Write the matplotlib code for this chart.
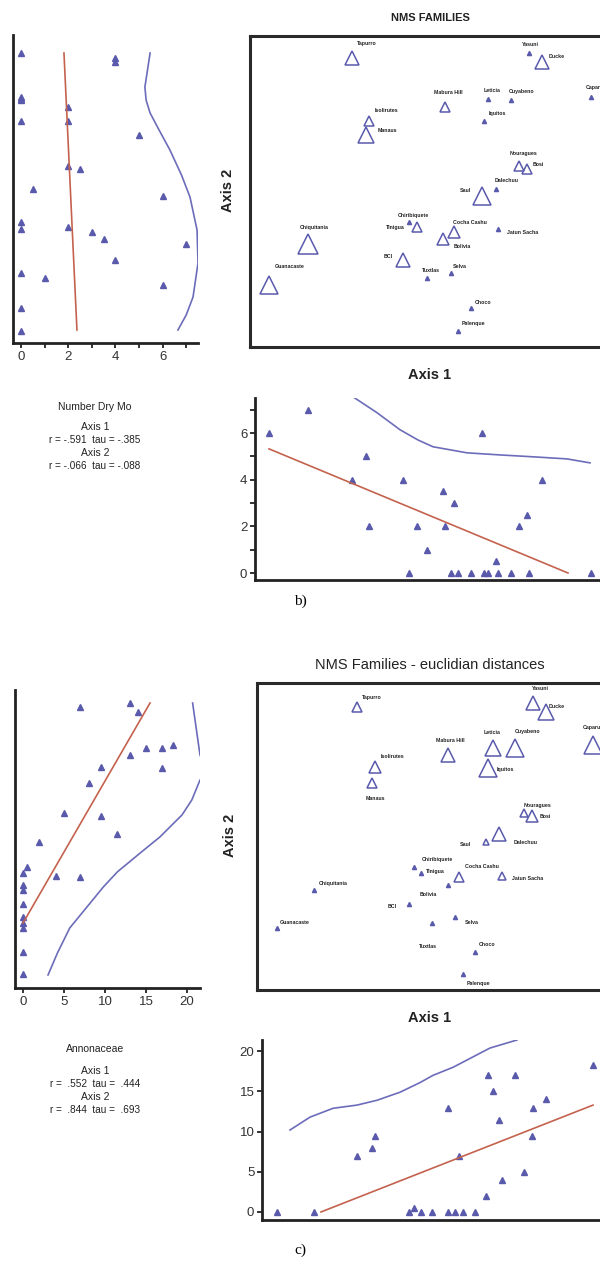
import numpy as np
import matplotlib
matplotlib.use("Agg")
import matplotlib.pyplot as plt

plt.rcParams['font.family'] = ['Liberation Sans', 'DejaVu Sans']

W, H = 600, 1267
BLUE = '#5a5aac'
LINE_BLUE = '#6c6cba'
RED = '#c4624e'

sites = ["Tapurro", "Yasuni", "Ducke", "Isolirutes", "Manaus", "Mabura Hill",
         "Leticia", "Cuyabeno", "Iquitos", "Caparu", "Nouragues", "Bosi",
         "Dalechuu", "Saul", "Chiribiquete", "Tinigua", "Chiquitania",
         "Cocha Cashu", "Bolivia", "Jatun Sacha", "BCI", "Tuxtlas", "Selva",
         "Choco", "Palenque", "Guanacaste"]

# NMS scores, families (Sorensen)
axis1_fam = [-0.78, 0.99, 1.12, -0.61, -0.64, 0.15, 0.58, 0.81, 0.54, 1.61,
             0.89, 0.97, 0.66, 0.52, -0.21, -0.13, -1.22, 0.24, 0.13, 0.68,
             -0.27, -0.03, 0.21, 0.41, 0.28, -1.61]
axis2_fam = [1.32, 1.37, 1.28, 0.69, 0.55, 0.83, 0.91, 0.90, 0.69, 0.93,
             0.24, 0.21, 0.01, -0.06, -0.32, -0.37, -0.54, -0.42, -0.49, -0.39,
             -0.70, -0.88, -0.83, -1.18, -1.41, -0.95]

# NMS scores, families (euclidian distances)
axis1_euc = [-0.73, 1.03, 1.16, -0.55, -0.58, 0.18, 0.63, 0.85, 0.58, 1.63,
             0.94, 1.02, 0.69, 0.56, -0.16, -0.09, -1.16, 0.29, 0.18, 0.72,
             -0.21, 0.02, 0.25, 0.45, 0.33, -1.53]
axis2_euc = [1.28, 1.32, 1.23, 0.68, 0.52, 0.80, 0.87, 0.87, 0.67, 0.90,
             0.22, 0.19, 0.01, -0.07, -0.32, -0.38, -0.55, -0.42, -0.50, -0.41,
             -0.69, -0.88, -0.82, -1.17, -1.39, -0.93]

dry_months = [4, 0, 4, 2, 5, 2, 0, 0, 0, 0, 2, 2.5, 0.5, 6, 0, 2, 7, 3, 3.5, 0,
              4, 1, 0, 0, 0, 6]
annonaceae = [7, 13, 14, 9.5, 8, 13, 15, 17, 17, 18.3, 5, 9.5, 11.5, 2, 0.5, 0,
              0, 7, 0, 4, 0, 0, 0, 0, 0, 0]

# label offsets (pixels) for the two ordinations
off_fam = [(15, 14), (1, 9), (15, 6), (17, 10), (21, 4), (3, 15), (4, 8),
           (11, 8), (13, 8), (4, 9), (4, 12), (11, 4), (11, 8), (-17, 5),
           (4, 7), (-22, 0), (6, 16), (16, 10), (19, -7), (25, -3), (-15, 4),
           (4, 8), (9, 6), (12, 6), (15, 7), (21, 18)]
off_euc = [(15, 10), (7, 15), (11, 5), (17, 11), (3, -16), (2, 15), (-1, 16),
           (13, 16), (17, -2), (-1, 18), (14, 8), (13, -1), (27, -9), (-21, -2),
           (23, 7), (14, 1), (19, 7), (23, 10), (-20, -10), (26, -3), (-17, -3),
           (-4, -24), (17, -5), (12, 7), (15, -9), (18, 6)]

# fitted lines / smooths: dry months
dry_ax2_line_x = [1.82, 2.37]
dry_ax2_line_y = [1.37, -1.40]
dry_ax2_smooth_x = [5.47, 5.25, 5.30, 5.47, 5.85, 6.31, 6.80, 7.16, 7.46, 7.50, 7.29, 7.00, 6.65]
dry_ax2_smooth_y = [1.37, 1.03, 0.90, 0.77, 0.60, 0.40, 0.15, -0.07, -0.40, -0.73, -1.07, -1.25, -1.40]
dry_ax1_line_x = [-1.61, 1.38]
dry_ax1_line_y = [5.32, 0.0]
dry_ax1_smooth_x = [-0.77, -0.53, -0.30, -0.12, 0.03, 0.37, 0.70, 1.03, 1.37, 1.60]
dry_ax1_smooth_y = [7.55, 6.87, 6.14, 5.70, 5.41, 5.15, 5.06, 4.98, 4.89, 4.72]

# fitted lines / smooths: Annonaceae
ann_ax2_line_x = [0.0, 15.5]
ann_ax2_line_y = [-0.88, 1.32]
ann_ax2_smooth_x = [20.7, 21.6, 22.6, 21.6, 20.6, 19.4, 16.7, 14.3, 11.5, 9.8, 7.8, 5.7, 4.2, 3.05]
ann_ax2_smooth_y = [1.32, 0.80, 0.62, 0.55, 0.35, 0.20, -0.02, -0.18, -0.37, -0.52, -0.72, -0.93, -1.18, -1.40]
ann_ax1_line_x = [-1.09, 1.63]
ann_ax1_line_y = [0.0, 13.3]
ann_ax1_smooth_x = [-1.40, -1.20, -0.97, -0.73, -0.53, -0.30, -0.10, 0.03, 0.23, 0.43, 0.60, 0.87]
ann_ax1_smooth_y = [10.2, 11.8, 12.9, 13.3, 13.9, 14.9, 16.1, 17.0, 18.0, 19.3, 20.4, 21.4]


def add_axes(fig, left, top, right, bottom):
    return fig.add_axes([left / W, 1 - bottom / H, (right - left) / W, (bottom - top) / H])


def ftext(fig, x, y, s, **kw):
    kw.setdefault('ha', 'center')
    kw.setdefault('va', 'center')
    fig.text(x / W, 1 - y / H, s, **kw)


def style_lb(ax):
    for sp in ['top', 'right']:
        ax.spines[sp].set_visible(False)
    for sp in ['left', 'bottom']:
        ax.spines[sp].set_linewidth(2.0)
        ax.spines[sp].set_color('#222222')
    ax.tick_params(direction='out', length=3.5, width=1.4, color='#333333',
                   labelsize=9.5, labelcolor='#333333', pad=2)


def side_scatter(ax, xv, yv, xlim, ylim, ticks, labels):
    ax.plot(xv, yv, ls='none', marker='^', ms=4.2, color=BLUE)
    ax.set_xlim(*xlim)
    ax.set_ylim(*ylim)
    style_lb(ax)
    ax.set_xticks(ticks)
    ax.set_xticklabels(labels)
    ax.set_yticks([])


def bottom_scatter(ax, xv, yv, xlim, ylim, ticks, labels):
    ax.plot(xv, yv, ls='none', marker='^', ms=4.2, color=BLUE)
    ax.set_xlim(*xlim)
    ax.set_ylim(*ylim)
    style_lb(ax)
    ax.set_yticks(ticks)
    ax.set_yticklabels(labels)
    ax.set_xticks([])


def nms_box(ax, a1, a2, vals, offs, xlim, ylim, base, slope):
    for name, x, y, v, (dx, dy) in zip(sites, a1, a2, vals, offs):
        if v >= 1.5:
            ms = base + slope * v
            ax.plot(x, y, marker='^', ms=ms, mfc='none', mec=BLUE, mew=1.1, ls='none')
        else:
            ax.plot(x, y, marker='^', ms=3.0, color=BLUE, ls='none')
        ax.annotate(name, (x, y), xytext=(dx, dy), textcoords='offset pixels',
                    fontsize=3.8, fontweight='bold', ha='center', va='center',
                    color='#222222', annotation_clip=False)
    ax.set_xlim(*xlim)
    ax.set_ylim(*ylim)
    ax.set_xticks([])
    ax.set_yticks([])
    for sp in ax.spines.values():
        sp.set_linewidth(2.2)
        sp.set_color('#2a2a2a')


fig = plt.figure(figsize=(W / 100, H / 100), dpi=100)

# ---------- b) number of dry months ----------
ax = add_axes(fig, 13, 35, 198, 343)
side_scatter(ax, dry_months, axis2_fam, (-0.34, 7.5), (-1.53, 1.55),
             range(8), ['0', '', '2', '', '4', '', '6', ''])
ax.plot(dry_ax2_line_x, dry_ax2_line_y, color=RED, lw=1.2)
ax.plot(dry_ax2_smooth_x, dry_ax2_smooth_y, color=LINE_BLUE, lw=1.2, clip_on=True)

ax = add_axes(fig, 250, 36, 612, 347)
nms_box(ax, axis1_fam, axis2_fam, dry_months, off_fam, (-1.8, 1.82), (-1.57, 1.54), 3.5, 1.65)

ax = add_axes(fig, 255, 398, 612, 580)
bottom_scatter(ax, axis1_fam, dry_months, (-1.75, 1.82), (-0.3, 7.5),
               range(8), ['0', '', '2', '', '4', '', '6', ''])
ax.plot(dry_ax1_line_x, dry_ax1_line_y, color=RED, lw=1.2)
ax.plot(dry_ax1_smooth_x, dry_ax1_smooth_y, color=LINE_BLUE, lw=1.2)

ftext(fig, 430, 18, 'NMS FAMILIES', fontsize=8, fontweight='bold', color='#222222')
ftext(fig, 228, 190, 'Axis 2', fontsize=10.5, fontweight='bold', rotation=90, color='#222222')
ftext(fig, 430, 375, 'Axis 1', fontsize=10.5, fontweight='bold', color='#222222')
ftext(fig, 95, 407, 'Number Dry Mo', fontsize=7.5, color='#222222')
ftext(fig, 95, 427, 'Axis 1', fontsize=7.5, color='#222222')
ftext(fig, 95, 440, 'r = -.591  tau = -.385', fontsize=7.2, color='#222222')
ftext(fig, 95, 453, 'Axis 2', fontsize=7.5, color='#222222')
ftext(fig, 95, 466, 'r = -.066  tau = -.088', fontsize=7.2, color='#222222')
ftext(fig, 300, 601, 'b)', fontsize=11, family=['Liberation Serif', 'DejaVu Serif'])

# ---------- c) Annonaceae ----------
ax = add_axes(fig, 15, 690, 200, 988)
side_scatter(ax, annonaceae, axis2_euc, (-0.98, 21.6), (-1.53, 1.45),
             [0, 5, 10, 15, 20], ['0', '5', '10', '15', '20'])
ax.plot(ann_ax2_line_x, ann_ax2_line_y, color=RED, lw=1.2)
ax.plot(ann_ax2_smooth_x, ann_ax2_smooth_y, color=LINE_BLUE, lw=1.2)

ax = add_axes(fig, 257, 683, 612, 990)
nms_box(ax, axis1_euc, axis2_euc, annonaceae, off_euc, (-1.73, 1.82), (-1.55, 1.52), 3.2, 0.55)

ax = add_axes(fig, 262, 1040, 612, 1220)
bottom_scatter(ax, axis1_euc, annonaceae, (-1.68, 1.82), (-1.0, 21.4),
               [0, 5, 10, 15, 20], ['0', '5', '10', '15', '20'])
ax.plot(ann_ax1_line_x, ann_ax1_line_y, color=RED, lw=1.2)
ax.plot(ann_ax1_smooth_x, ann_ax1_smooth_y, color=LINE_BLUE, lw=1.2)

ftext(fig, 430, 665, 'NMS Families - euclidian distances', fontsize=10.5, color='#222222')
ftext(fig, 230, 835, 'Axis 2', fontsize=10.5, fontweight='bold', rotation=90, color='#222222')
ftext(fig, 430, 1018, 'Axis 1', fontsize=10.5, fontweight='bold', color='#222222')
ftext(fig, 95, 1049, 'Annonaceae', fontsize=7.5, color='#222222')
ftext(fig, 95, 1071, 'Axis 1', fontsize=7.5, color='#222222')
ftext(fig, 95, 1084, 'r =  .552  tau =  .444', fontsize=7.2, color='#222222')
ftext(fig, 95, 1097, 'Axis 2', fontsize=7.5, color='#222222')
ftext(fig, 95, 1110, 'r =  .844  tau =  .693', fontsize=7.2, color='#222222')
ftext(fig, 300, 1250, 'c)', fontsize=11, family=['Liberation Serif', 'DejaVu Serif'])

fig.savefig('out.png', dpi=100)
